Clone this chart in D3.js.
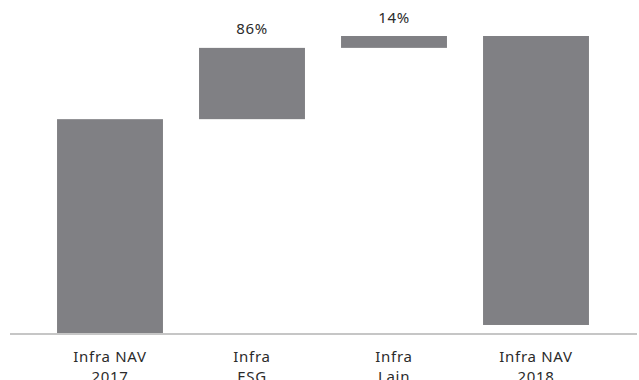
<!DOCTYPE html>
<html>
<head>
<meta charset="utf-8">
<script src="https://cdn.jsdelivr.net/npm/d3@7/dist/d3.min.js"></script>
<style>
  html, body { margin: 0; padding: 0; background: #fff; }
  svg { display: block; }
  text { font-family: "Noto Sans", "Open Sans", sans-serif; fill: #2b2b2b; letter-spacing: 0.7px; }
</style>
</head>
<body>
<svg id="chart" width="639" height="380"></svg>
<script>
// Data
const categories = [["Infra NAV", "2017"], ["Infra", "ESG"], ["Infra", "Lain"], ["Infra NAV", "2018"]];
const barBase = [0, 72, 96, 2.7];
const barTop = [72, 96, 100, 100];
const valueLabels = ["", "86%", "14%", ""];

const svg = d3.select("#chart");

const x = d3.scaleBand()
  .domain(d3.range(categories.length))
  .range([39, 607])
  .paddingInner(0.254)
  .paddingOuter(0.127);

const y = d3.scaleLinear().domain([0, 100]).range([333, 36]);

// bars
svg.append("g").selectAll("rect")
  .data(d3.range(categories.length))
  .join("rect")
  .attr("x", i => x(i))
  .attr("width", x.bandwidth())
  .attr("y", i => y(barTop[i]))
  .attr("height", i => y(barBase[i]) - y(barTop[i]))
  .attr("fill", "#808084");

// baseline axis
svg.append("line")
  .attr("x1", 10).attr("x2", 637)
  .attr("y1", 334).attr("y2", 334)
  .attr("stroke", "#c6c6c6")
  .attr("stroke-width", 2);

// value labels
svg.append("g").selectAll("text")
  .data(d3.range(categories.length).filter(i => valueLabels[i]))
  .join("text")
  .attr("x", i => x(i) + x.bandwidth() / 2)
  .attr("y", i => y(barTop[i]) - 13.5)
  .attr("text-anchor", "middle")
  .attr("font-size", 15)
  .text(i => valueLabels[i]);

// category labels
const lab = svg.append("g").selectAll("text")
  .data(d3.range(categories.length))
  .join("text")
  .attr("x", i => x(i) + x.bandwidth() / 2)
  .attr("y", 361.5)
  .attr("text-anchor", "middle")
  .attr("font-size", 15);
lab.selectAll("tspan")
  .data(i => categories[i].map(t => ({t, cx: x(i) + x.bandwidth() / 2})))
  .join("tspan")
  .attr("x", d => d.cx)
  .attr("dy", (d, k) => k === 0 ? 0 : 20.5)
  .text(d => d.t);
</script>
</body>
</html>
